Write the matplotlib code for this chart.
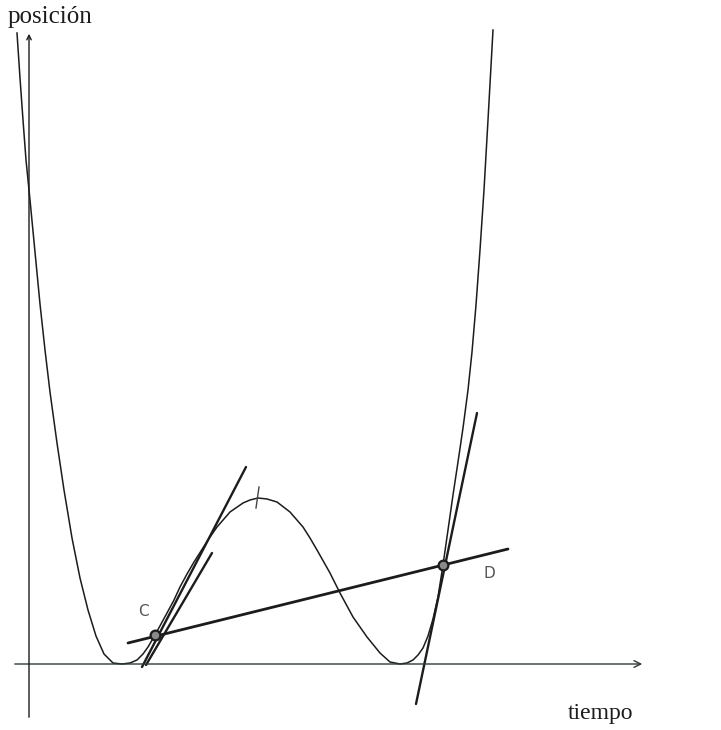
import matplotlib
matplotlib.use('Agg')
import matplotlib.pyplot as plt

# curve (tiempo, posición), origin at the axes crossing
t_curve = [-12, -9, -6, -3, 1, 6, 11, 16, 21, 28, 35, 43, 51, 59, 67, 75, 84,
           93, 101, 108, 114, 119, 126, 132, 138, 145, 151, 158, 165, 172, 179,
           188, 201, 214, 221, 229, 238, 248, 261, 274, 281, 288, 301, 311,
           324, 338, 351, 361, 371, 378, 384, 389, 394, 399, 404, 409, 414,
           419, 424, 429, 434, 439, 443, 447, 451, 455, 459, 464]
s_curve = [631, 586, 544, 504, 464, 412, 360, 314, 272, 221, 174, 126, 86, 54,
           28, 10, 1, 0, 1, 4, 10, 17, 29, 40, 51, 64, 77, 90, 102, 113, 124,
           137, 152, 161, 164, 166, 165, 162, 152, 137, 126, 114, 91, 71, 47,
           27, 11, 2, 0, 1, 4, 9, 16, 28, 45, 67, 99, 134, 169, 202, 236, 274,
           312, 359, 414, 474, 544, 634]

# straight lines: secant C-D and the tangents
secant_t = [99, 479]
secant_s = [21, 115]
tanC_long_t = [113, 217]
tanC_long_s = [-3, 197]
tanC_short_t = [117, 183]
tanC_short_s = [-1, 111]
tanD_t = [387, 448]
tanD_s = [-40, 251]
max_mark_t = [230, 227]
max_mark_s = [177, 156]

points_t = [126, 414]
points_s = [29, 99]
point_labels = ['C', 'D']

fig = plt.figure(figsize=(7.21, 7.30), dpi=100)
ax = fig.add_axes([0, 0, 1, 1])
ax.set_xlim(-29, 692)
ax.set_ylim(-66, 664)
ax.axis('off')

ink = '#1c1c1c'

# axes with arrows
ax.annotate('', xy=(616, 0), xytext=(-17, 0),
            arrowprops=dict(arrowstyle='->', color='#2e3b33', lw=1.0, mutation_scale=12))
ax.annotate('', xy=(0, 633), xytext=(0, -56),
            arrowprops=dict(arrowstyle='->', color=ink, lw=1.0, mutation_scale=8))

ax.plot(t_curve, s_curve, color=ink, lw=1.1, solid_joinstyle='round')
ax.plot(secant_t, secant_s, color=ink, lw=2.0, solid_capstyle='round')
ax.plot(tanC_long_t, tanC_long_s, color=ink, lw=1.7, solid_capstyle='round')
ax.plot(tanC_short_t, tanC_short_s, color=ink, lw=1.7, solid_capstyle='round')
ax.plot(tanD_t, tanD_s, color=ink, lw=1.7, solid_capstyle='round')
ax.plot(max_mark_t, max_mark_s, color='#444444', lw=1.0)

ax.plot(points_t, points_s, 'o', ms=7, mfc='#8a8a8a', mec=ink, mew=1.6)
ax.text(points_t[0] - 12, points_s[0] + 24, point_labels[0], fontsize=11,
        color='#555555', ha='center', va='center', family='DejaVu Sans')
ax.text(points_t[1] + 46, points_s[1] - 8, point_labels[1], fontsize=11,
        color='#555555', ha='center', va='center', family='DejaVu Sans')

ax.text(-21, 647, 'posición', fontsize=18, family='Liberation Serif',
        ha='left', va='center', color=ink)
ax.text(539, -50, 'tiempo', fontsize=17, family='Liberation Serif',
        ha='left', va='center', color=ink)

fig.savefig('out.png', dpi=100, facecolor='white')
